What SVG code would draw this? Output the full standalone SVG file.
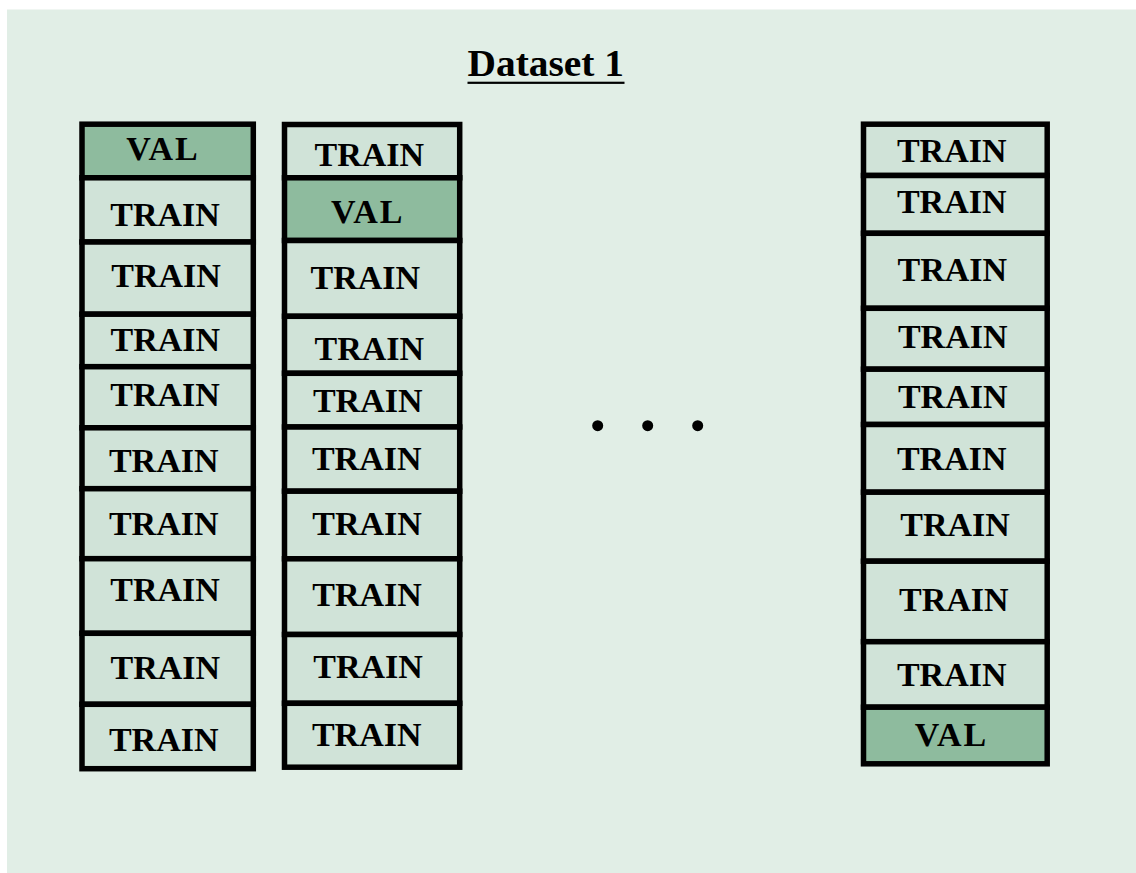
<svg xmlns="http://www.w3.org/2000/svg" width="1136" height="873" viewBox="0 0 1136 873">
<style>
.cell{stroke:#000;stroke-width:5.5}
.train{fill:#d0e3d8}
.val{fill:#8ebb9e}
.lbl{font-family:"Liberation Serif","Times New Roman",serif;font-weight:bold;font-size:34px;fill:#000;text-anchor:middle}
.v{letter-spacing:2px}
.title{font-family:"Liberation Serif","Times New Roman",serif;font-weight:bold;font-size:37px;fill:#000}
</style>
<rect x="0" y="0" width="1136" height="873" fill="#ffffff"/>
<rect x="7" y="9.5" width="1129" height="863.5" fill="#e1eee6"/>
<g id="title">
<text class="title" x="467.5" y="75.7" textLength="156.5" lengthAdjust="spacingAndGlyphs">Dataset 1</text>
<rect x="467.5" y="81.7" width="157" height="2.2" fill="#000"/>
</g>
<g id="column1">
<g id="c1r1"><rect class="cell val" x="82" y="124.2" width="171.3" height="53.6"/><text class="lbl v" x="163" y="160">VAL</text></g>
<g id="c1r2"><rect class="cell train" x="82" y="177.8" width="171.3" height="64.2"/><text class="lbl" x="165" y="226">TRAIN</text></g>
<g id="c1r3"><rect class="cell train" x="82" y="242" width="171.3" height="72.2"/><text class="lbl" x="166" y="287.3">TRAIN</text></g>
<g id="c1r4"><rect class="cell train" x="82" y="314.2" width="171.3" height="52.5"/><text class="lbl" x="165.3" y="351">TRAIN</text></g>
<g id="c1r5"><rect class="cell train" x="82" y="366.7" width="171.3" height="61.1"/><text class="lbl" x="165" y="406">TRAIN</text></g>
<g id="c1r6"><rect class="cell train" x="82" y="427.8" width="171.3" height="60.9"/><text class="lbl" x="163.7" y="471.7">TRAIN</text></g>
<g id="c1r7"><rect class="cell train" x="82" y="488.7" width="171.3" height="70"/><text class="lbl" x="163.7" y="535">TRAIN</text></g>
<g id="c1r8"><rect class="cell train" x="82" y="558.7" width="171.3" height="74.6"/><text class="lbl" x="165" y="601">TRAIN</text></g>
<g id="c1r9"><rect class="cell train" x="82" y="633.3" width="171.3" height="71"/><text class="lbl" x="165.3" y="679">TRAIN</text></g>
<g id="c1r10"><rect class="cell train" x="82" y="704.3" width="171.3" height="64.4"/><text class="lbl" x="163.7" y="751">TRAIN</text></g>
</g>
<g id="column2">
<g id="c2r1"><rect class="cell train" x="284.5" y="124.5" width="175.2" height="53.3"/><text class="lbl" x="369.3" y="166">TRAIN</text></g>
<g id="c2r2"><rect class="cell val" x="284.5" y="177.8" width="175.2" height="62.7"/><text class="lbl v" x="367.7" y="223.3">VAL</text></g>
<g id="c2r3"><rect class="cell train" x="284.5" y="240.5" width="175.2" height="75.8"/><text class="lbl" x="365.3" y="289">TRAIN</text></g>
<g id="c2r4"><rect class="cell train" x="284.5" y="316.3" width="175.2" height="57"/><text class="lbl" x="369.3" y="360">TRAIN</text></g>
<g id="c2r5"><rect class="cell train" x="284.5" y="373.3" width="175.2" height="53.7"/><text class="lbl" x="367.7" y="412.3">TRAIN</text></g>
<g id="c2r6"><rect class="cell train" x="284.5" y="427" width="175.2" height="64.2"/><text class="lbl" x="366.7" y="470">TRAIN</text></g>
<g id="c2r7"><rect class="cell train" x="284.5" y="491.2" width="175.2" height="67.6"/><text class="lbl" x="367" y="535">TRAIN</text></g>
<g id="c2r8"><rect class="cell train" x="284.5" y="558.8" width="175.2" height="75.7"/><text class="lbl" x="367" y="606">TRAIN</text></g>
<g id="c2r9"><rect class="cell train" x="284.5" y="634.5" width="175.2" height="68.8"/><text class="lbl" x="368" y="677.7">TRAIN</text></g>
<g id="c2r10"><rect class="cell train" x="284.5" y="703.3" width="175.2" height="63.9"/><text class="lbl" x="366.7" y="745.7">TRAIN</text></g>
</g>
<g id="column3">
<g id="c3r1"><rect class="cell train" x="863.5" y="124.2" width="183.7" height="51.3"/><text class="lbl" x="951.7" y="161.7">TRAIN</text></g>
<g id="c3r2"><rect class="cell train" x="863.5" y="175.5" width="183.7" height="57.8"/><text class="lbl" x="951.7" y="212.7">TRAIN</text></g>
<g id="c3r3"><rect class="cell train" x="863.5" y="233.3" width="183.7" height="75"/><text class="lbl" x="952.3" y="280.7">TRAIN</text></g>
<g id="c3r4"><rect class="cell train" x="863.5" y="308.3" width="183.7" height="60.9"/><text class="lbl" x="952.7" y="348.3">TRAIN</text></g>
<g id="c3r5"><rect class="cell train" x="863.5" y="369.2" width="183.7" height="55.3"/><text class="lbl" x="952.7" y="408.3">TRAIN</text></g>
<g id="c3r6"><rect class="cell train" x="863.5" y="424.5" width="183.7" height="67.7"/><text class="lbl" x="951.7" y="470">TRAIN</text></g>
<g id="c3r7"><rect class="cell train" x="863.5" y="492.2" width="183.7" height="69"/><text class="lbl" x="955" y="536">TRAIN</text></g>
<g id="c3r8"><rect class="cell train" x="863.5" y="561.2" width="183.7" height="80.5"/><text class="lbl" x="953.8" y="610.7">TRAIN</text></g>
<g id="c3r9"><rect class="cell train" x="863.5" y="641.7" width="183.7" height="65.5"/><text class="lbl" x="951.7" y="685.7">TRAIN</text></g>
<g id="c3r10"><rect class="cell val" x="863.5" y="707.2" width="183.7" height="56.6"/><text class="lbl v" x="951.5" y="746">VAL</text></g>
</g>
<g id="ellipsis" fill="#000">
<circle cx="597.7" cy="425.7" r="5.5"/>
<circle cx="647.7" cy="425.7" r="5.5"/>
<circle cx="697.7" cy="425.7" r="5.5"/>
</g>
<g id="connectors"/>
</svg>
